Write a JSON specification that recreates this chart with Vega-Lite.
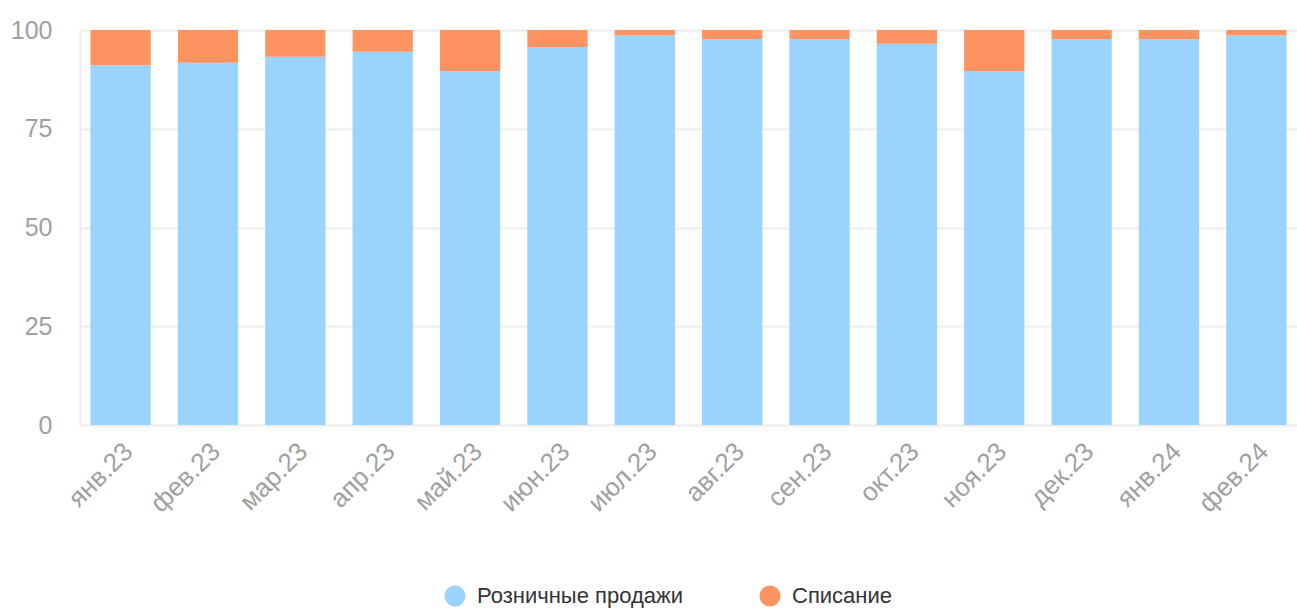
{
  "$schema": "https://vega.github.io/schema/vega-lite/v6.json",
  "width": 1217,
  "height": 395,
  "autosize": {"type": "none"},
  "padding": {"left": 80, "top": 30, "right": 0, "bottom": 185},
  "background": "white",
  "config": {"view": {"stroke": null}, "font": "Liberation Sans"},
  "data": {"values": [
    {"month": "янв.23", "category": "Розничные продажи", "o": 1, "value": 91.1},
    {"month": "янв.23", "category": "Списание", "o": 2, "value": 8.9},
    {"month": "фев.23", "category": "Розничные продажи", "o": 1, "value": 91.7},
    {"month": "фев.23", "category": "Списание", "o": 2, "value": 8.3},
    {"month": "мар.23", "category": "Розничные продажи", "o": 1, "value": 93.2},
    {"month": "мар.23", "category": "Списание", "o": 2, "value": 6.8},
    {"month": "апр.23", "category": "Розничные продажи", "o": 1, "value": 94.5},
    {"month": "апр.23", "category": "Списание", "o": 2, "value": 5.5},
    {"month": "май.23", "category": "Розничные продажи", "o": 1, "value": 89.6},
    {"month": "май.23", "category": "Списание", "o": 2, "value": 10.4},
    {"month": "июн.23", "category": "Розничные продажи", "o": 1, "value": 95.7},
    {"month": "июн.23", "category": "Списание", "o": 2, "value": 4.3},
    {"month": "июл.23", "category": "Розничные продажи", "o": 1, "value": 98.6},
    {"month": "июл.23", "category": "Списание", "o": 2, "value": 1.4},
    {"month": "авг.23", "category": "Розничные продажи", "o": 1, "value": 97.7},
    {"month": "авг.23", "category": "Списание", "o": 2, "value": 2.3},
    {"month": "сен.23", "category": "Розничные продажи", "o": 1, "value": 97.7},
    {"month": "сен.23", "category": "Списание", "o": 2, "value": 2.3},
    {"month": "окт.23", "category": "Розничные продажи", "o": 1, "value": 96.5},
    {"month": "окт.23", "category": "Списание", "o": 2, "value": 3.5},
    {"month": "ноя.23", "category": "Розничные продажи", "o": 1, "value": 89.6},
    {"month": "ноя.23", "category": "Списание", "o": 2, "value": 10.4},
    {"month": "дек.23", "category": "Розничные продажи", "o": 1, "value": 97.7},
    {"month": "дек.23", "category": "Списание", "o": 2, "value": 2.3},
    {"month": "янв.24", "category": "Розничные продажи", "o": 1, "value": 97.7},
    {"month": "янв.24", "category": "Списание", "o": 2, "value": 2.3},
    {"month": "фев.24", "category": "Розничные продажи", "o": 1, "value": 98.6},
    {"month": "фев.24", "category": "Списание", "o": 2, "value": 1.4}
  ]},
  "mark": {"type": "bar"},
  "encoding": {
    "x": {
      "field": "month", "type": "nominal", "sort": null, "title": null,
      "scale": {"paddingInner": 0.31, "paddingOuter": 0.12},
      "axis": {"labelAngle": -45, "labelFontSize": 26, "labelColor": "#a0a0a0", "labelPadding": 22, "labelOffset": 8, "ticks": false, "domainColor": "#eeeeee", "domainWidth": 2, "labelAlign": "right", "labelBaseline": "middle", "labelLimit": 0}
    },
    "y": {
      "field": "value", "type": "quantitative", "stack": true, "title": null,
      "scale": {"domain": [0, 100], "nice": false},
      "axis": {"values": [0, 25, 50, 75, 100], "labelFontSize": 25, "labelColor": "#a0a0a0", "labelPadding": 28, "ticks": false, "gridColor": "#eeeeee", "gridWidth": 2, "domainColor": "#eeeeee", "domainWidth": 2}
    },
    "color": {
      "field": "category", "type": "nominal",
      "scale": {"domain": ["Розничные продажи", "Списание"], "range": ["#99d3fe", "#fd9462"]},
      "legend": {"title": null, "orient": "none", "direction": "horizontal", "legendX": 364, "legendY": 555, "symbolType": "circle", "symbolSize": 440, "symbolStrokeWidth": 0, "labelFontSize": 22, "labelColor": "#333333", "labelOffset": 11, "labelLimit": 0, "columnPadding": 76}
    },
    "order": {"field": "o", "type": "quantitative"}
  }
}
